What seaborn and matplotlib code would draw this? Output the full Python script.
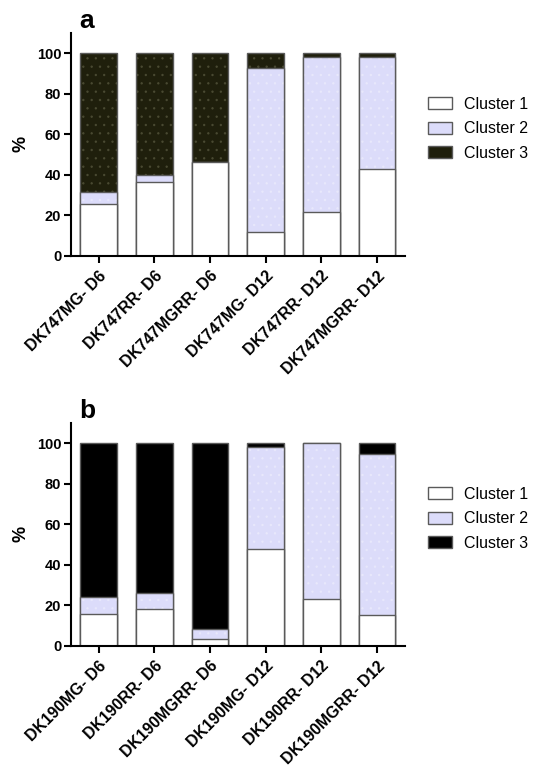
import matplotlib
matplotlib.use("Agg")
import matplotlib.pyplot as plt
import seaborn as sns
from matplotlib.colors import to_rgba
from matplotlib.patches import Patch

# Data (% of cells per cluster)
labels_a = ["DK747MG- D6", "DK747RR- D6", "DK747MGRR- D6", "DK747MG- D12", "DK747RR- D12", "DK747MGRR- D12"]
c1_a = [25.4, 36.6, 46.1, 11.5, 21.7, 43.0]
c2_a = [6.1, 3.1, 0.0, 81.3, 76.5, 55.2]
c3_a = [68.5, 60.3, 53.9, 7.2, 1.8, 1.8]

labels_b = ["DK190MG- D6", "DK190RR- D6", "DK190MGRR- D6", "DK190MG- D12", "DK190RR- D12", "DK190MGRR- D12"]
c1_b = [15.5, 18.3, 3.5, 47.6, 23.1, 15.0]
c2_b = [8.4, 7.7, 4.6, 50.4, 76.9, 79.6]
c3_b = [76.1, 74.0, 91.9, 2.0, 0.0, 5.4]

cluster_names = ["Cluster 1", "Cluster 2", "Cluster 3"]

sns.set_style("white")
plt.rcParams["font.family"] = ["Liberation Sans", "DejaVu Sans"]
plt.rcParams["hatch.linewidth"] = 0.6
plt.rcParams["text.color"] = "black"
plt.rcParams["axes.labelcolor"] = "black"
plt.rcParams["xtick.color"] = "black"
plt.rcParams["ytick.color"] = "black"

EDGE = "#5a5a5a"
WHITE = "#ffffff"
LAV = "#dcdcfa"


def stacked_panel(ax, labels, c1, c2, c3, c3_color, c3_hatch, letter):
    tot12 = [a + b for a, b in zip(c1, c2)]
    tot = [a + b for a, b in zip(tot12, c3)]
    layers = [
        (tot, c3_color, c3_hatch),
        (tot12, LAV, "white"),
        (c1, WHITE, None),
    ]
    for vals, col, hcol in layers:
        n0 = len(ax.patches)
        sns.barplot(x=labels, y=vals, ax=ax, color=col, saturation=1,
                    edgecolor=EDGE, linewidth=1.0, width=0.66, errorbar=None)
        if hcol is not None:
            for p in ax.patches[n0:]:
                p.set_hatch("..")
                p._hatch_color = to_rgba(hcol, 0.25)

    ax.set_ylim(0, 110)
    ax.set_xlim(-0.5, 5.5)
    ax.set_yticks([0, 20, 40, 60, 80, 100])
    sns.despine(ax=ax)
    for s in ["left", "bottom"]:
        ax.spines[s].set_linewidth(1.5)
        ax.spines[s].set_color("black")
    ax.tick_params(axis="both", direction="out", length=5, width=1.5, color="black",
                   bottom=True, left=True)
    ax.tick_params(axis="y", labelsize=10.5, pad=2)
    ax.tick_params(axis="x", labelsize=11.5, pad=4)
    for t in ax.get_yticklabels():
        t.set_fontweight("bold")
    ax.set_xticks(range(len(labels)))
    ax.set_xticklabels(labels, rotation=45, ha="right", rotation_mode="anchor",
                       fontweight="bold")
    ax.set_ylabel("%", fontsize=13, fontweight="bold", labelpad=5)
    ax.set_xlabel("")
    ax.text(0.025, 1.0, letter, transform=ax.transAxes, fontsize=19,
            fontweight="bold", va="bottom", ha="left")

    handles = [
        Patch(facecolor=WHITE, edgecolor=EDGE, linewidth=1.0),
        Patch(facecolor=LAV, edgecolor=EDGE, linewidth=1.0),
        Patch(facecolor=c3_color, edgecolor=EDGE, linewidth=1.0),
    ]
    ax.legend(handles, cluster_names, loc="center left", bbox_to_anchor=(1.025, 0.57),
              frameon=False, fontsize=11.5, handlelength=1.5, handleheight=0.75,
              labelspacing=0.6, handletextpad=0.8)


fig = plt.figure(figsize=(5.37, 7.69), dpi=100)
ax_a = fig.add_axes([0.132, 0.6675, 0.622, 0.2896])
ax_b = fig.add_axes([0.132, 0.1603, 0.622, 0.2896])

stacked_panel(ax_a, labels_a, c1_a, c2_a, c3_a, "#1f1f0c", "#9a9a7a", "a")
stacked_panel(ax_b, labels_b, c1_b, c2_b, c3_b, "#000000", None, "b")

fig.savefig("out.png", dpi=100)
